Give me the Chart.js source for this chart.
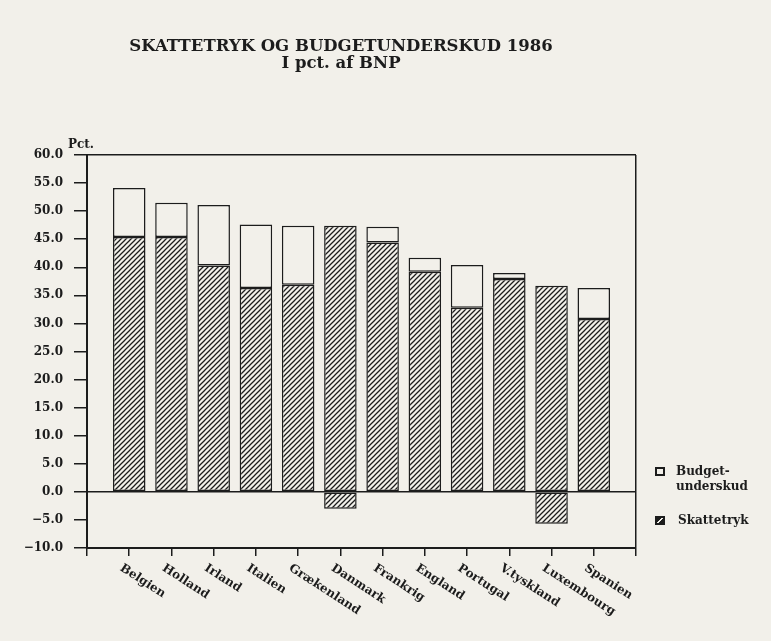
<!DOCTYPE html>
<html>
<head>
<meta charset="utf-8">
<script src="https://cdn.jsdelivr.net/npm/chart.js@4.4.1/dist/chart.umd.min.js"></script>
<style>
  html, body { margin: 0; padding: 0; background: #f2f0ea; }
  #wrap { position: relative; width: 771px; height: 641px; font-family: "DejaVu Serif", serif; font-weight: bold; color: #1c1c1c; }
  #chart { position: absolute; left: 0; top: 0; }
  .title { position: absolute; left: 0; width: 682px; text-align: center; font-size: 16.5px; line-height: 17px; }
  .lbl { position: absolute; font-size: 12px; line-height: 15px; white-space: nowrap; }
  .box { position: absolute; width: 6px; height: 5px; border: 2px solid #1c1c1c; background: #f2f0ea; }
  .box.hatch { background: linear-gradient(135deg, #1c1c1c 40%, #f2f0ea 40%, #f2f0ea 60%, #1c1c1c 60%); }
</style>
</head>
<body>
<div id="wrap">
  <canvas id="chart" width="771" height="641"></canvas>
  <div class="title" style="top:37px;">SKATTETRYK OG BUDGETUNDERSKUD 1986<br>I pct. af BNP</div>
  <div class="lbl" style="left:68px; top:137px;">Pct.</div>
  <div class="box" style="left:655px; top:467px;"></div>
  <div class="lbl" style="left:676px; top:464px;">Budget-<br>underskud</div>
  <div class="box hatch" style="left:655px; top:516px;"></div>
  <div class="lbl" style="left:678px; top:513px;">Skattetryk</div>
</div>
<script>
// ---- Data (pct. af BNP, 1986) ----
const categories = ['Belgien', 'Holland', 'Irland', 'Italien', 'Grækenland', 'Danmark',
                    'Frankrig', 'England', 'Portugal', 'V.tyskland', 'Luxembourg', 'Spanien'];
const skattetryk = [45.4, 45.4, 40.3, 36.3, 36.9, 47.4, 44.4, 39.2, 32.8, 37.9, 36.7, 30.8];
const budget     = [8.7, 6.1, 10.8, 11.3, 10.5, -3.0, 2.8, 2.5, 7.6, 1.1, -5.7, 5.5];
const yMin = -10, yMax = 60, yStep = 5;

const INK   = '#1c1c1c';
const PAPER = '#f2f0ea';
const FONT  = "'DejaVu Serif', serif";

// diagonal hatch pattern
function makeHatch() {
  const n = 5;
  const c = document.createElement('canvas');
  c.width = n; c.height = n;
  const g = c.getContext('2d');
  g.fillStyle = PAPER;
  g.fillRect(0, 0, n, n);
  g.strokeStyle = INK;
  g.lineWidth = 1.25;
  g.beginPath();
  g.moveTo(-1, n + 1); g.lineTo(n + 1, -1);
  g.moveTo(-1, 1); g.lineTo(1, -1);
  g.moveTo(n - 1, n + 1); g.lineTo(n + 1, n - 1);
  g.stroke();
  return g.createPattern(c, 'repeat');
}
const hatch = makeHatch();

// rotated country names under the axis
const xLabels = {
  id: 'xLabels',
  afterDraw(chart) {
    const { ctx } = chart;
    const xs = chart.scales.x;
    ctx.save();
    ctx.fillStyle = INK;
    ctx.font = 'bold 12px ' + FONT;
    ctx.textAlign = 'left';
    ctx.textBaseline = 'top';
    categories.forEach((name, i) => {
      ctx.save();
      ctx.translate(xs.getPixelForValue(i) - 5, xs.top + 14);
      ctx.rotate(33 * Math.PI / 180);
      ctx.fillText(name, 0, 0);
      ctx.restore();
    });
    ctx.restore();
  }
};

const fmt = v => (v < 0 ? '\u2212' : '') + Math.abs(v).toFixed(1);

new Chart(document.getElementById('chart'), {
  type: 'bar',
  data: {
    datasets: [
      {
        label: 'Skattetryk',
        data: skattetryk.map((v, i) => ({ x: i, y: v })),
        backgroundColor: hatch,
        borderColor: INK,
        borderWidth: 1.5,
        borderSkipped: false
      },
      {
        label: 'Budgetunderskud',
        data: budget.map((v, i) => ({ x: i, y: v })),
        backgroundColor: budget.map(v => v < 0 ? hatch : PAPER),
        borderColor: INK,
        borderWidth: 1.5,
        borderSkipped: false
      }
    ]
  },
  options: {
    responsive: false,
    animation: false,
    events: [],
    layout: { padding: { top: 155, right: 135, bottom: 0, left: 0 } },
    datasets: { bar: { categoryPercentage: 1, barPercentage: 0.77 } },
    plugins: { legend: { display: false }, tooltip: { enabled: false }, title: { display: false } },
    scales: {
      x: {
        type: 'linear',
        stacked: true,
        min: -1,
        max: categories.length,
        offset: false,
        afterFit: s => { s.height = 93; },
        ticks: { display: false, stepSize: 1, autoSkip: false },
        grid: {
          offset: false,
          color: c => (c.tick && c.tick.value === categories.length) ? INK : 'transparent',
          lineWidth: 1.5,
          tickLength: 8,
          tickColor: INK,
          tickWidth: 1.5
        },
        border: { color: INK, width: 2 }
      },
      y: {
        stacked: true,
        min: yMin,
        max: yMax,
        afterFit: s => { s.width = 87; },
        ticks: {
          stepSize: yStep,
          padding: 11,
          color: INK,
          font: { family: FONT, size: 12, weight: 'bold' },
          callback: fmt
        },
        grid: {
          color: c => (c.tick && (c.tick.value === 0 || c.tick.value === yMax)) ? INK : 'transparent',
          lineWidth: 1.5,
          tickLength: 13,
          tickColor: INK,
          tickWidth: 1.5
        },
        border: { color: INK, width: 2 }
      }
    }
  },
  plugins: [xLabels]
});
</script>
</body>
</html>
